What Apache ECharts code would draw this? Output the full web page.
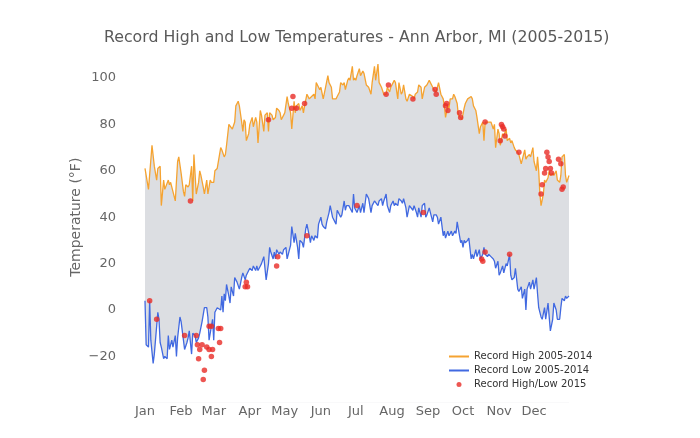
<!DOCTYPE html>
<html>
<head>
<meta charset="utf-8">
<title>Record High and Low Temperatures</title>
<script src="https://cdn.jsdelivr.net/npm/echarts@6/dist/echarts.min.js"></script>
<style>
  html, body { margin: 0; padding: 0; background: #ffffff; }
  #chart { width: 700px; height: 438px; }
</style>
</head>
<body>
<div id="chart"></div>
<script>
// day of year (0 = Jan 1) and temperature in °F
var recordHigh = [
  [0,61],[3,52],[6,71],[8,62],[10,56],[11,61],[13,62],[14,45],[16,56],[17,52],[20,56],[21,54],[22,55],[24,51],[26,47],[28,64],[29,66],
  [31,59],[33,51],[34,49],[35,54],[37,53],[38,54],[40,62],[41,47],[42,67],[44,50],[46,55],[47,60],[48,58],[50,53],[51,50],[53,56],[54,50],
  [56,56],[57,55],[59,55],[60,60],[62,61],[63,61],[65,70],[66,69],[68,66],[69,67],[70,71],[72,80],[73,80],[75,78],[77,81],[78,88],[80,90],
  [81,88],[83,81],[84,77],[85,82],[86,81],[87,73],[89,76],[90,80],[92,83],[93,79],[95,83],[96,81],[97,72],[99,86],[100,84],[102,77],[103,84],
  [105,85],[106,77],[107,85],[109,84],[110,82],[112,83],[113,87],[115,86],[116,85],[117,82],[119,84],[120,85],[122,92],[123,89],[125,85],
  [126,78],[128,90],[129,85],[130,88],[132,89],[133,86],[135,88],[136,85],[137,88],[139,93],[141,91],[142,91],[143,92],[145,93],[146,91],
  [147,98],[149,96],[150,95],[151,96],[153,91],[154,91],[155,96],[157,101],[158,98],[160,96],[161,91],[162,91],[164,91],[165,92],[167,94],
  [168,98],[170,97],[171,98],[172,95],[174,99],[175,100],[176,99],[178,105],[179,99],[180,100],[181,99],[182,101],[184,104],[185,101],
  [187,103],[188,102],[190,97],[191,97],[192,96],[194,93],[195,98],[197,105],[198,99],[200,106],[201,98],[203,96],[204,96],[205,93],
  [207,93],[208,96],[210,94],[211,96],[213,98],[214,99],[215,98],[217,91],[218,98],[220,93],[221,94],[222,97],[224,91],[225,90],[227,93],
  [228,93],[230,92],[231,91],[232,93],[234,94],[235,97],[237,96],[238,91],[240,96],[241,96],[242,97],[244,99],[245,98],[247,96],[248,95],
  [250,94],[251,96],[252,98],[254,93],[256,91],[257,88],[258,83],[260,88],[261,87],[262,91],[264,91],[265,93],[266,92],[268,89],[269,84],
  [271,83],[272,82],[274,87],[275,89],[277,91],[278,91],[280,92],[281,91],[282,88],[284,86],[285,83],[287,76],[288,79],[290,81],[291,73],
  [292,81],[294,81],[295,81],[297,81],[299,78],[300,80],[301,70],[303,78],[304,76],[305,71],[307,76],[308,75],[310,78],[311,73],[313,74],
  [314,72],[315,73],[317,70],[318,69],[320,68],[321,67],[323,63],[324,65],[326,69],[327,65],[328,66],[330,67],[331,66],[333,70],[334,64],
  [336,60],[337,66],[338,60],[339,50],[340,45],[342,50],[343,56],[344,55],[346,57],[347,60],[348,58],[350,59],[351,58],[353,60],[354,56],
  [356,55],[357,58],[358,66],[360,67],[361,58],[362,55],[364,58]
];

var recordLow = [
  [0,4],[1,-15],[3,-16],[4,4],[5,-13],[7,-23],[8,-19],[10,-7],[11,-1],[12,-4],[13,-14],[14,-16],[16,-21],[17,-20],[19,-21],[20,-11],
  [21,-17],[23,-13],[24,-16],[26,-11],[27,-20],[28,-12],[30,-3],[31,-5],[33,-13],[34,-17],[36,-14],[37,-12],[38,-9],[40,-19],[41,-10],
  [43,-11],[44,-14],[46,-12],[47,-10],[49,-5],[50,-2],[51,1],[53,1],[54,-3],[55,-13],[57,-7],[58,-4],[59,-13],[60,-1],[62,1],[63,1],
  [65,0],[66,6],[67,-1],[68,7],[69,4],[70,11],[72,6],[73,3],[74,10],[76,6],[77,14],[79,12],[80,12],[81,9],[83,14],[84,16],[86,13],
  [87,15],[89,17],[90,18],[92,17],[93,19],[95,17],[96,19],[97,17],[99,19],[100,20],[102,23],[103,18],[104,13],[106,20],[107,27],[108,25],
  [110,22],[111,25],[112,22],[113,26],[115,24],[116,25],[118,24],[119,26],[121,27],[122,22],[123,24],[125,28],[126,36],[128,29],[129,33],
  [131,27],[132,22],[133,30],[135,29],[136,27],[138,35],[139,37],[141,32],[142,29],[143,32],[145,30],[146,32],[148,31],[149,37],[151,40],
  [152,37],[153,36],[155,35],[156,38],[158,42],[159,45],[161,40],[162,40],[164,37],[165,43],[166,42],[168,40],[169,41],[171,47],[172,43],
  [173,45],[175,45],[176,44],[178,42],[179,50],[180,44],[181,43],[182,42],[184,45],[185,42],[187,46],[188,42],[190,50],[191,49],[192,48],
  [194,42],[195,45],[197,47],[198,47],[200,45],[201,47],[203,48],[204,45],[205,47],[207,50],[208,45],[210,42],[211,45],[213,47],[214,45],
  [215,46],[217,45],[218,48],[220,47],[221,46],[222,48],[224,44],[225,40],[227,45],[228,45],[230,43],[231,45],[233,42],[234,40],[235,44],
  [237,40],[238,45],[240,46],[241,40],[242,41],[244,44],[245,42],[247,38],[248,41],[250,41],[251,40],[252,37],[254,40],[256,32],[257,34],
  [258,31],[260,34],[261,32],[263,34],[264,32],[266,34],[267,33],[268,38],[270,32],[271,29],[272,30],[273,27],[274,30],[275,29],[277,30],
  [278,31],[280,22],[281,24],[282,22],[284,26],[285,23],[287,26],[288,22],[290,24],[291,27],[292,24],[294,23],[295,24],[297,23],[299,22],
  [300,21],[301,18],[303,21],[304,15],[305,16],[307,19],[308,16],[310,20],[311,19],[313,24],[314,15],[315,13],[317,14],[318,18],[320,9],
  [321,8],[323,10],[324,5],[326,9],[327,0],[328,9],[330,12],[331,9],[333,13],[334,9],[336,14],[337,7],[338,1],[340,-3],[341,-4],[343,1],
  [344,-4],[346,3],[347,3],[348,-9],[350,-4],[351,3],[353,0],[354,-4],[356,-4],[357,1],[358,5],[360,4],[361,6],[362,5],[364,6]
];

// days in 2015 that broke the 2005-2014 record
var broken2015 = [
  [4,4],[10,-4],[34,-11],[39,47],[44,-11],[45,-15],[46,-21],[47,-17],[49,-15],[50,-30],[51,-26],[53,-16],[55,-17],[55,-7],[57,-7],
  [57,-20],[58,-17],[63,-8],[64,-14],[65,-8],[86,10],[87,12],[88,10],[106,82],[113,19],[114,23],[126,87],[127,92],[130,87],[137,89],
  [139,32],[182,45],[207,93],[209,97],[230,91],[239,42],[249,95],[250,93],[258,88],[259,89],[260,86],[270,85],[271,83],[289,22],[290,21],
  [292,25],[292,81],[305,73],[306,80],[307,79],[308,78],[309,75],[313,24],[321,68],[340,50],[341,54],[343,59],[344,61],[345,68],[346,66],
  [347,64],[348,61],[349,59],[355,65],[357,63],[358,52],[359,53]
];

var monthStarts = [0, 31, 59, 90, 120, 151, 181, 212, 243, 273, 304, 334];
var monthNames = ['Jan', 'Feb', 'Mar', 'Apr', 'May', 'Jun', 'Jul', 'Aug', 'Sep', 'Oct', 'Nov', 'Dec'];

var chart = echarts.init(document.getElementById('chart'), null, { renderer: 'canvas' });

// line entries in the legend: keep only the stroke, hide the default dot
var noDot = { color: 'rgba(0,0,0,0)', borderColor: 'rgba(0,0,0,0)', borderWidth: 0 };

chart.setOption({
  backgroundColor: '#ffffff',
  animation: false,
  textStyle: { fontFamily: 'DejaVu Sans' },
  title: {
    text: 'Record High and Low Temperatures - Ann Arbor, MI (2005-2015)',
    left: 104,
    top: 30,
    padding: 0,
    textStyle: { fontSize: 15.75, fontWeight: 'normal', color: '#595959', fontFamily: 'DejaVu Sans' }
  },
  legend: {
    orient: 'vertical',
    left: 443,
    top: 346,
    itemWidth: 20,
    itemHeight: 5,
    itemGap: 3,
    textStyle: { fontSize: 10, color: '#333333', lineHeight: 11 },
    data: [
      { name: 'Record High 2005-2014', itemStyle: noDot },
      { name: 'Record Low 2005-2014', itemStyle: noDot },
      { name: 'Record High/Low 2015', icon: 'circle' }
    ]
  },
  grid: { left: 145, right: 131, top: 31.6, bottom: 35.2 },
  xAxis: {
    type: 'value',
    min: 0,
    max: 364,
    axisLine: { show: false },
    axisTick: { show: false },
    splitLine: { show: false },
    axisLabel: {
      customValues: monthStarts,
      margin: 2,
      fontSize: 13,
      color: '#666666',
      formatter: function (v) {
        return monthNames[monthStarts.indexOf(v)];
      }
    }
  },
  yAxis: {
    type: 'value',
    min: -40,
    max: 120,
    interval: 20,
    name: 'Temperature (°F)',
    nameLocation: 'middle',
    nameGap: 62,
    nameMoveOverlap: false,
    nameTextStyle: { fontSize: 14, color: '#666666' },
    axisLine: { show: false },
    axisTick: { show: false },
    splitLine: { show: false },
    axisLabel: {
      margin: 29,
      fontSize: 13,
      color: '#666666',
      formatter: function (v) {
        if (v <= -40 || v >= 120) return '';
        return v < 0 ? '\u2212' + Math.abs(v) : String(v);
      }
    }
  },
  series: [
    {
      name: 'Record High 2005-2014',
      type: 'line',
      data: recordHigh,
      symbol: 'none',
      lineStyle: { color: '#f5a331', width: 1.3 },
      itemStyle: { color: '#f5a331' },
      areaStyle: { color: '#dcdee2', opacity: 1, origin: 'start' },
      z: 2
    },
    {
      name: 'Record Low 2005-2014',
      type: 'line',
      data: recordLow,
      symbol: 'none',
      lineStyle: { color: '#4169e1', width: 1.3 },
      itemStyle: { color: '#4169e1' },
      areaStyle: { color: '#ffffff', opacity: 1, origin: 'start' },
      z: 3
    },
    {
      name: 'Record High/Low 2015',
      type: 'scatter',
      data: broken2015,
      symbolSize: 5.5,
      itemStyle: { color: '#e82c27' },
      z: 5
    }
  ]
});
</script>
</body>
</html>
